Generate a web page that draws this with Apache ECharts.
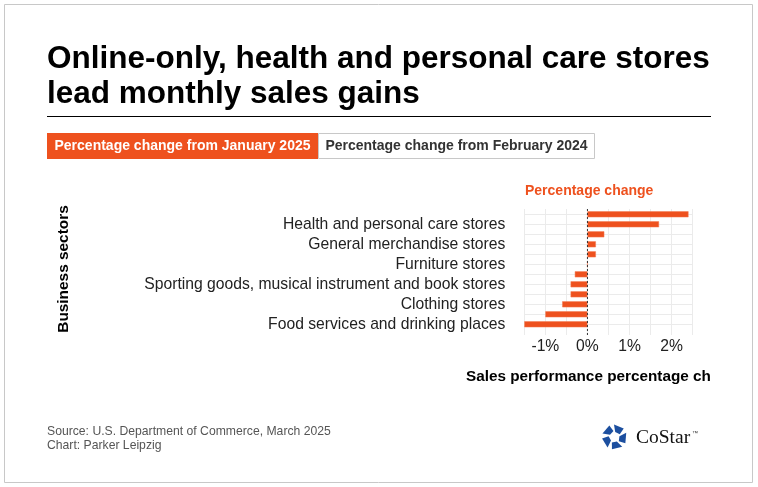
<!DOCTYPE html>
<html>
<head>
<meta charset="utf-8">
<script src="https://cdn.jsdelivr.net/npm/echarts@6/dist/echarts.min.js"></script>
<style>
html,body{margin:0;padding:0;background:#fff;}
#chart{width:758px;height:487px;}
</style>
</head>
<body>
<div id="chart"></div>
<script>
const categories = [
  "Nonstore retailers",
  "Health and personal care stores",
  "Building material and garden equipment stores",
  "General merchandise stores",
  "Food and beverage stores",
  "Furniture stores",
  "Electronics and appliance stores",
  "Sporting goods, musical instrument and book stores",
  "Gasoline stations",
  "Clothing stores",
  "Motor vehicle and parts dealers",
  "Food services and drinking places"
];
const changeFromJan2025 = [2.4, 1.7, 0.4, 0.2, 0.2, 0.0, -0.3, -0.4, -0.4, -0.6, -1.0, -1.5];
const xTicks = [-1.5, -1, -0.5, 0, 0.5, 1, 1.5, 2, 2.5];
const zeroLine = [[0, 0], [0, 1]];

const FONT = "'Liberation Sans', Arial, Helvetica, sans-serif";
const ORANGE = "#EE511E";
const chart = echarts.init(document.getElementById('chart'), null, {renderer: 'canvas'});

const gl = 524.3, gw = 168.4;

function logoPieces() {
  const cx = 614.5, cy = 437;
  const out = [];
  for (let k = 0; k < 5; k++) {
    const a0 = (-90 + k * 72 + 8) * Math.PI / 180;
    const a1 = (-90 + k * 72 + 62) * Math.PI / 180;
    const ri = 5, ro = 12.5;
    const pts = [
      [cx + ri * Math.cos(a0), cy + ri * Math.sin(a0)],
      [cx + ro * Math.cos(a0 - 0.18), cy + ro * Math.sin(a0 - 0.18)],
      [cx + ro * Math.cos(a1 - 0.25), cy + ro * Math.sin(a1 - 0.25)],
      [cx + (ri + 1) * Math.cos(a1), cy + (ri + 1) * Math.sin(a1)]
    ];
    out.push({type: 'polygon', shape: {points: pts}, style: {fill: '#1C4F9F'}});
  }
  return out;
}

const option = {
  animation: false,
  backgroundColor: '#fff',
  textStyle: {fontFamily: FONT},
  grid: [
    {left: gl, width: gw, top: 214.3, height: 110},
    {left: gl, width: gw, top: 209, height: 126}
  ],
  xAxis: [
    {gridIndex: 0, type: 'value', min: -1.5, max: 2.5, show: false},
    {gridIndex: 1, type: 'value', min: -1.5, max: 2.5, interval: 0.5,
      axisLine: {show: false}, axisTick: {show: false},
      splitLine: {show: true, lineStyle: {color: '#EBEBEB', width: 1}},
      axisLabel: {margin: 3.5, fontSize: 15.7, color: '#222', fontFamily: FONT,
        formatter: v => (Math.abs(v - Math.round(v)) < 1e-9 && xTicks.indexOf(v) >= 0) ? (Math.round(v) + '%') : ''}
    }
  ],
  yAxis: [
    {gridIndex: 0, type: 'category', data: categories, inverse: true, boundaryGap: false,
      axisLine: {show: false}, axisTick: {show: false},
      splitLine: {show: true, interval: 0, lineStyle: {color: '#EBEBEB', width: 1}},
      axisLabel: {margin: 19, fontSize: 15.7, color: '#222', fontFamily: FONT,
        interval: (i) => i % 2 === 1}
    },
    {gridIndex: 1, type: 'value', min: 0, max: 1, show: false}
  ],
  series: [
    {type: 'bar', xAxisIndex: 0, yAxisIndex: 0, data: changeFromJan2025, barWidth: 6, clip: false,
      itemStyle: {color: ORANGE, borderColor: '#F37A52', borderWidth: 0.5}, z: 3},
    {type: 'line', xAxisIndex: 1, yAxisIndex: 1, data: zeroLine, symbol: 'none', clip: false,
      lineStyle: {color: '#333', width: 1, type: [2, 2]}, z: 5}
  ],
  graphic: [
    {type: 'rect', shape: {x: 4.5, y: 4.5, width: 748, height: 478}, style: {fill: 'none', stroke: '#C8C8C8', lineWidth: 1}, z: -1},
    {type: 'text', x: 47, y: 59, style: {text: 'Online-only, health and personal care stores', font: `bold 31.5px ${FONT}`, fill: '#000', verticalAlign: 'middle'}},
    {type: 'text', x: 47, y: 94, style: {text: 'lead monthly sales gains', font: `bold 31.5px ${FONT}`, fill: '#000', verticalAlign: 'middle'}},
    {type: 'rect', shape: {x: 47, y: 116, width: 664, height: 1}, style: {fill: '#000'}},
    {type: 'rect', shape: {x: 47, y: 133, width: 271, height: 26}, style: {fill: ORANGE}},
    {type: 'rect', shape: {x: 318.5, y: 133.5, width: 276, height: 25}, style: {fill: '#fff', stroke: '#C8C8C8', lineWidth: 1}},
    {type: 'text', x: 182.5, y: 146, style: {text: 'Percentage change from January 2025', font: `bold 14px ${FONT}`, fill: '#fff', align: 'center', verticalAlign: 'middle'}},
    {type: 'text', x: 456.5, y: 146, style: {text: 'Percentage change from February 2024', font: `bold 14px ${FONT}`, fill: '#333', align: 'center', verticalAlign: 'middle'}},
    {type: 'text', x: 525, y: 191, style: {text: 'Percentage change', font: `bold 14px ${FONT}`, fill: ORANGE, verticalAlign: 'middle'}},
    {type: 'text', x: 64, y: 269, rotation: Math.PI / 2, style: {text: 'Business sectors', font: `bold 15.4px ${FONT}`, fill: '#000', align: 'center', verticalAlign: 'middle'}},
    {type: 'text', x: 466, y: 377, style: {text: 'Sales performance percentage change', font: `bold 15.3px ${FONT}`, fill: '#000', verticalAlign: 'middle', width: 253, overflow: 'truncate', ellipsis: ''}},
    {type: 'text', x: 47, y: 432, style: {text: 'Source: U.S. Department of Commerce, March 2025', font: `12.2px ${FONT}`, fill: '#555', verticalAlign: 'middle'}},
    {type: 'text', x: 47, y: 446, style: {text: 'Chart: Parker Leipzig', font: `12.2px ${FONT}`, fill: '#555', verticalAlign: 'middle'}},
    {type: 'group', children: logoPieces()},
    {type: 'text', x: 636, y: 438, style: {text: 'CoStar', font: `19.5px 'Liberation Serif', 'Times New Roman', serif`, fill: '#111', verticalAlign: 'middle'}},
    {type: 'text', x: 692, y: 433, style: {text: '™', font: `6px ${FONT}`, fill: '#333', verticalAlign: 'middle'}}
  ]
};
chart.setOption(option);
</script>
</body>
</html>
